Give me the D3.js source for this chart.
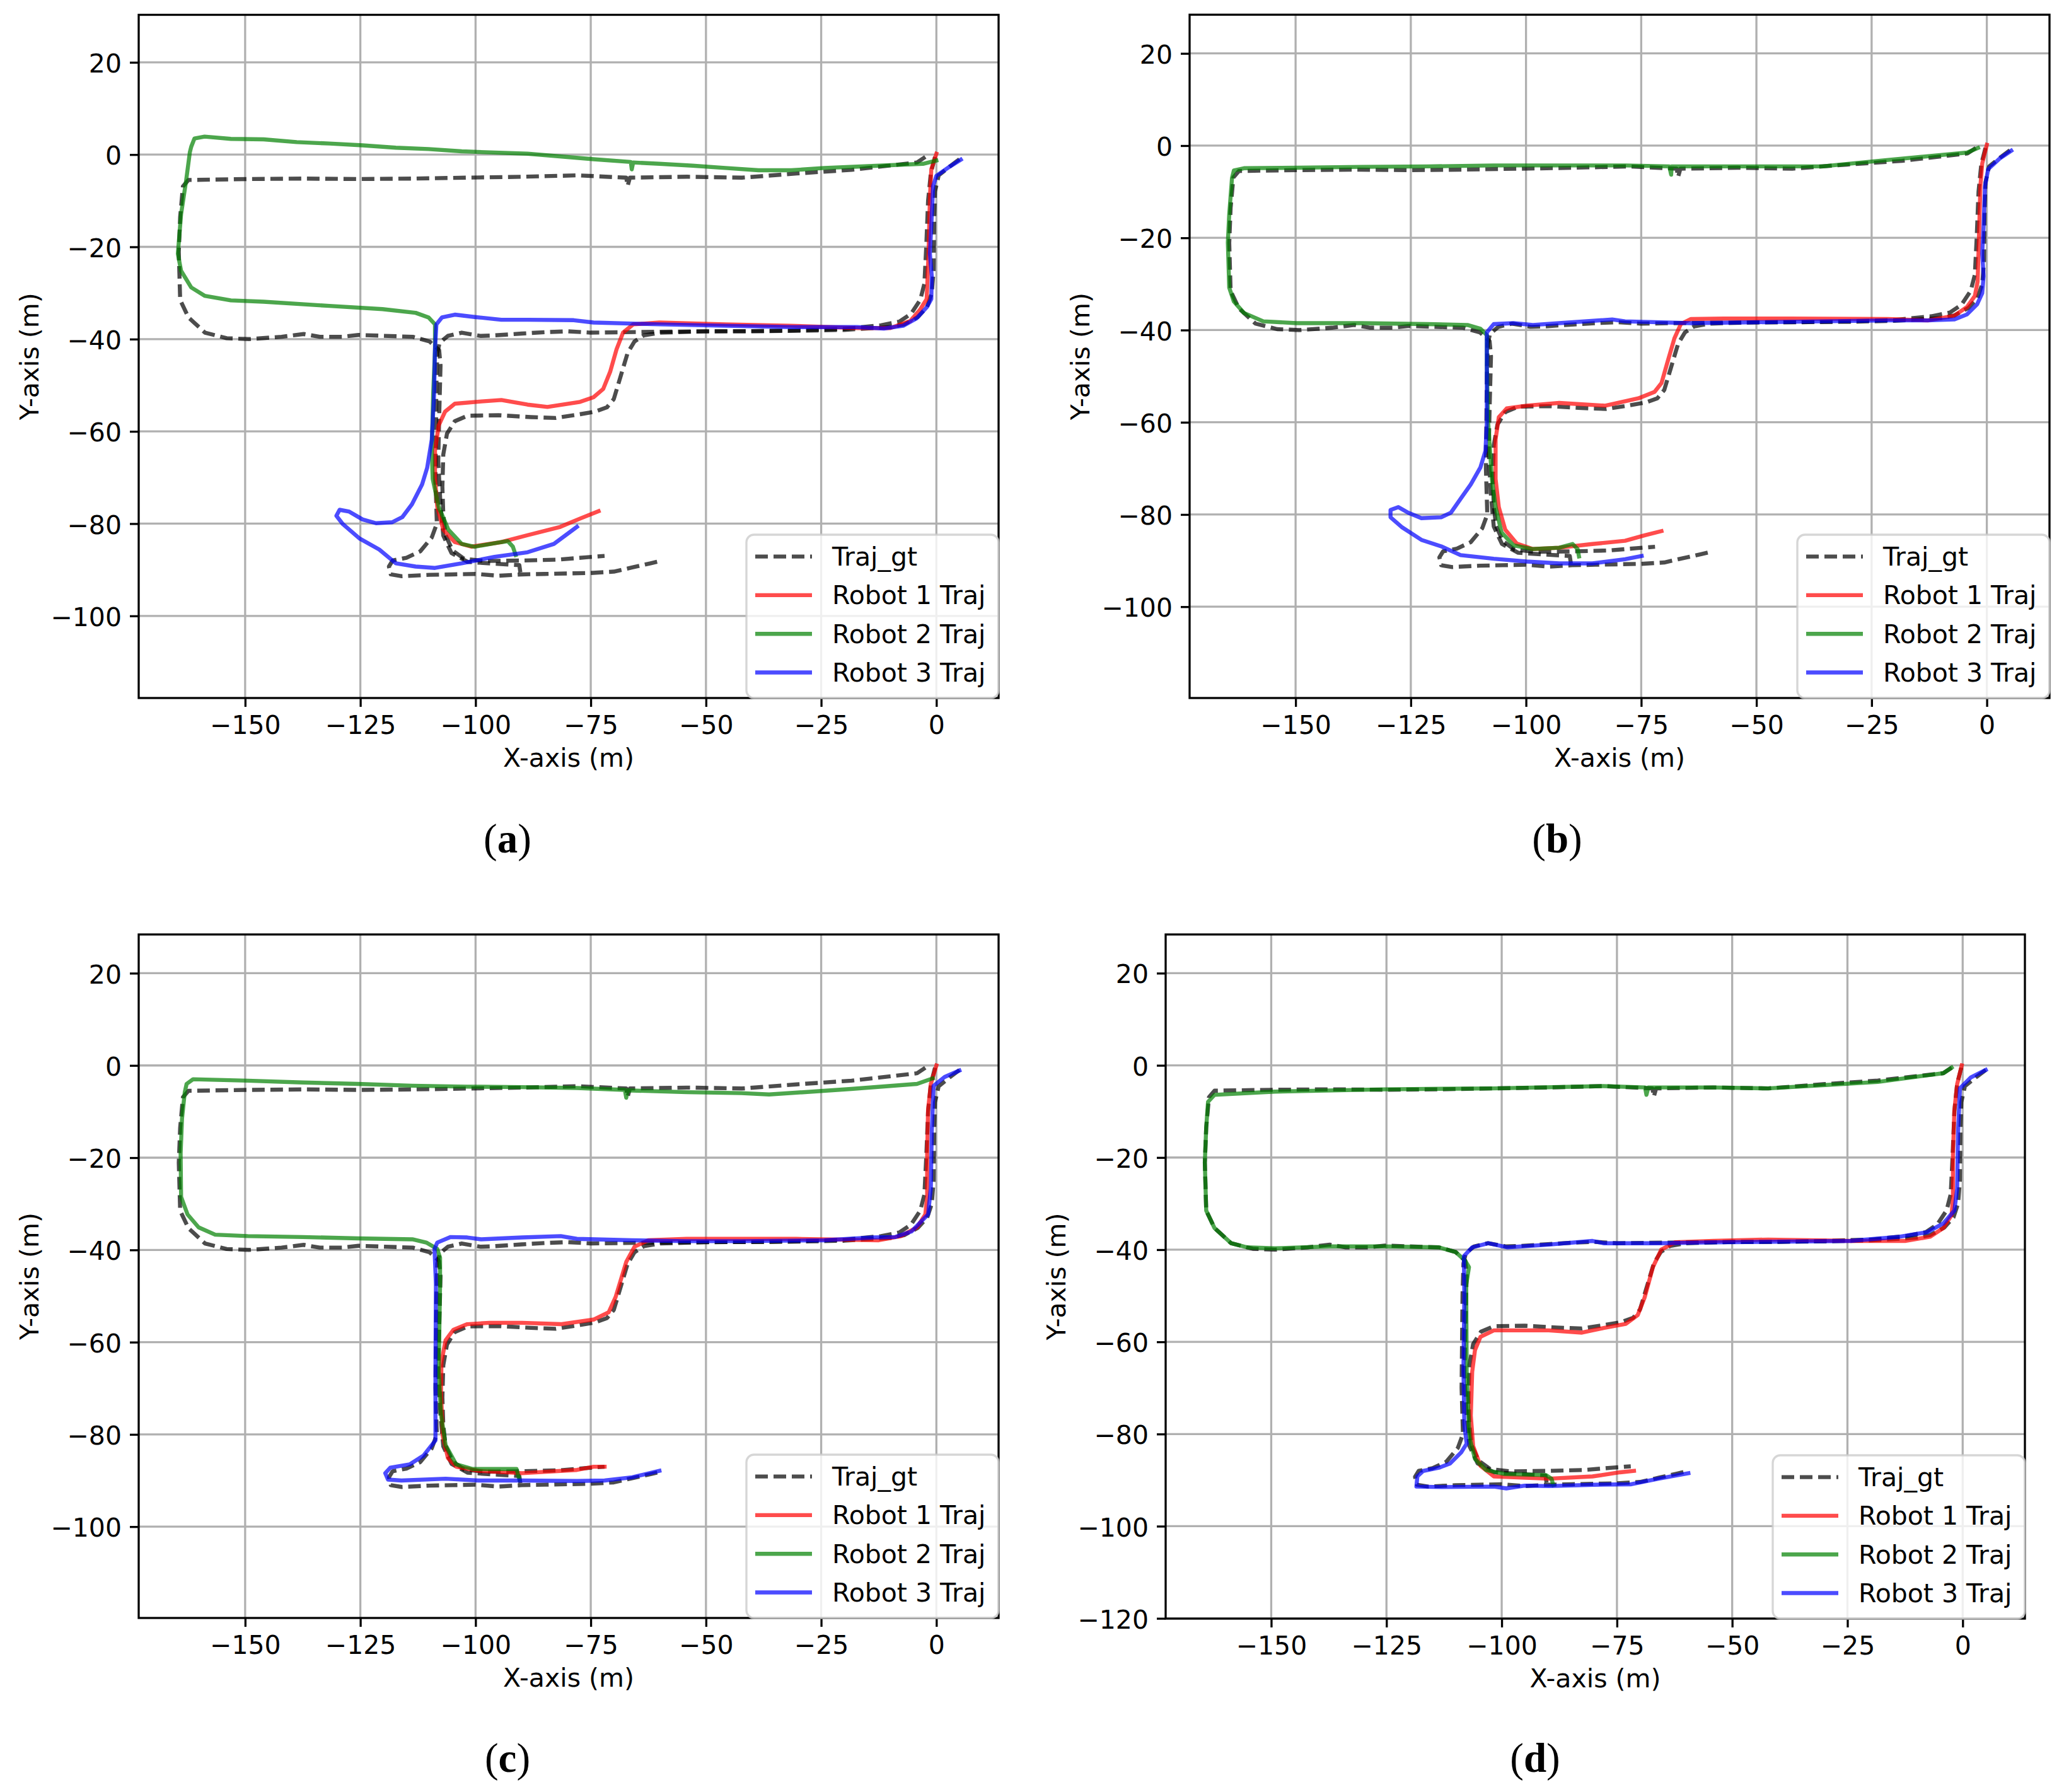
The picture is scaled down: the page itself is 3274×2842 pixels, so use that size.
<!DOCTYPE html>
<html>
<head>
<meta charset="utf-8">
<script src="https://cdn.jsdelivr.net/npm/d3@7"></script>
<style>
  body { margin: 0; background: #fff; }
  text { font-family: "DejaVu Sans", sans-serif; }
</style>
</head>
<body>
<div id="chart"></div>
<script>
// ground truth, same in every panel
var gtRobot1 = [[-0.3,-0.5],[-1.2,-4],[-1.8,-10],[-2.2,-20],[-2.6,-28],[-3.5,-31.5],[-5.5,-34.5],[-8,-36.2],[-12,-37],[-20,-37.8],[-30,-38.1],[-40,-38.3],[-50,-38.3],[-60,-38.6],[-63.5,-39.2],[-65.5,-40.5],[-67,-43],[-68.5,-48],[-70,-53],[-71.5,-54.8],[-74,-55.7],[-78,-56.4],[-82.6,-57.1],[-88,-56.9],[-95,-56.5],[-101.7,-56.6],[-104.5,-57.8],[-106.2,-60.5],[-107,-65],[-107.2,-72],[-107,-78],[-106.5,-82.5],[-105,-85.8],[-102.5,-87.6],[-98,-88.1],[-90,-88],[-82,-87.8],[-76,-87.3],[-72,-87]];
var gtRobot2 = [[-2.4,-0.5],[-4.2,-1.7],[-18.4,-3.3],[-30.3,-4.1],[-42.2,-5.0],[-54.1,-4.8],[-66.5,-5.0],[-67,-6.8],[-67.3,-5.0],[-77.9,-4.5],[-89.8,-4.8],[-101.7,-5.0],[-113.6,-5.2],[-125.4,-5.3],[-137.3,-5.2],[-149.2,-5.3],[-162.3,-5.5],[-163.5,-6.9],[-164.1,-13.5],[-164.4,-21.1],[-164.1,-31.5],[-162.3,-35.3],[-158.7,-38.6],[-154,-39.8],[-149.2,-40.0],[-142.1,-39.5],[-137.3,-38.9],[-133.8,-39.5],[-129,-39.5],[-125.4,-39.1],[-113.6,-39.5],[-110,-40.5],[-107.9,-42.4],[-107.6,-45.7],[-107.9,-57],[-108.1,-66.5],[-107.6,-76],[-107,-82.6],[-105.2,-86.4],[-101.7,-88.3],[-95.7,-88.7],[-90.5,-89],[-90.2,-91.1]];
var gtRobot3 = [[5,-1],[3,-2.5],[0.5,-4.5],[-0.3,-8],[-0.5,-15],[-0.6,-25],[-1,-30],[-2,-33],[-4,-35.2],[-7,-36.8],[-10,-37.4],[-20,-38],[-30,-38.2],[-45,-38.3],[-60,-38.4],[-75,-38.6],[-80,-38.3],[-85,-38.5],[-90,-38.8],[-96,-39.2],[-99,-39.3],[-103,-38.6],[-106,-39.3],[-107.8,-40.8],[-108.3,-43],[-108.5,-50],[-108.6,-60],[-108.7,-70],[-108.4,-80],[-109.5,-83],[-112,-86],[-115,-87.4],[-118,-88],[-118.8,-89.3],[-118.4,-91],[-116,-91.4],[-110,-91.1],[-105,-91.0],[-100,-90.9],[-95,-91.3],[-90,-91],[-85,-90.9],[-80,-90.8],[-75,-90.7],[-70,-90.4],[-66,-89.5],[-62,-88.6],[-59.5,-88]];

// panel (a)
var robot1A = [[0,0.2],[-1.1,-3.2],[-1.4,-9.3],[-1.7,-21.5],[-2.1,-31.3],[-3.6,-33.7],[-5.7,-36.1],[-10,-37.6],[-17.2,-37.6],[-31.5,-37.1],[-45.8,-36.8],[-60.1,-36.4],[-65.8,-36.8],[-68,-38.6],[-69.4,-42.2],[-70.8,-47.1],[-72.3,-50.8],[-74.4,-52.6],[-77.3,-53.6],[-84.4,-54.7],[-88.7,-54.2],[-94.4,-53.2],[-98.7,-53.5],[-104.5,-54],[-106.6,-55.7],[-108,-58.7],[-108.8,-64.2],[-108.8,-70.3],[-108.3,-76.4],[-107,-81.3],[-104.5,-84],[-100.9,-85],[-94.4,-84],[-88.7,-82.5],[-81.6,-80.7],[-77.3,-78.9],[-73.3,-77.3]];
var robot2A = [[0,-1.3],[-2.9,-2],[-17.2,-2.6],[-24.3,-2.9],[-31.5,-3.4],[-38.6,-3.4],[-45.8,-2.9],[-52.9,-2.4],[-60.1,-2],[-65.8,-1.7],[-66.1,-3.2],[-66.3,-1.6],[-74.4,-1],[-88.7,0.2],[-103,0.7],[-110.2,1.2],[-117.3,1.5],[-124.5,2],[-131.7,2.4],[-138.8,2.7],[-146,3.3],[-153.1,3.4],[-158.8,3.9],[-161,3.5],[-161.7,1.7],[-162,0.5],[-162.8,-5.6],[-163.9,-12.9],[-164.6,-21.5],[-163.9,-25.2],[-161.7,-28.8],[-158.8,-30.6],[-153.1,-31.6],[-146,-31.9],[-131.7,-32.8],[-120.2,-33.5],[-113,-34.3],[-110.2,-35.3],[-108.8,-36.8],[-108.8,-42.2],[-109.2,-52],[-109.5,-64.2],[-109.3,-70.3],[-108,-76.4],[-105.9,-81.3],[-103,-84.4],[-100.2,-85],[-94.4,-84],[-93,-83.8],[-91.9,-85],[-91.3,-86.8]];
var robot3A = [[5.3,-1.1],[2.9,-2.6],[0,-4.6],[-0.7,-6.8],[-1.1,-15.4],[-1.4,-21.5],[-1,-26.4],[-1.1,-31.3],[-2.1,-33.1],[-4.3,-35.5],[-7.2,-37.1],[-11.4,-37.7],[-17.2,-37.4],[-31.5,-37.4],[-45.8,-37.1],[-60.1,-36.8],[-74.4,-36.4],[-78.7,-35.9],[-88.7,-35.8],[-94.4,-35.8],[-100.2,-35.2],[-104.5,-34.7],[-107.3,-35.3],[-108.5,-36.8],[-108.8,-42.2],[-109,-52],[-109.5,-61.8],[-110.5,-67.9],[-111.6,-71.5],[-113.8,-75.8],[-115.9,-78.6],[-118.1,-79.7],[-121.6,-79.9],[-124.5,-79.1],[-127.4,-77.4],[-129.5,-77],[-130.2,-78.3],[-128.8,-80.1],[-125.2,-83.2],[-120.9,-85.6],[-117.3,-88.6],[-113,-89.3],[-108.8,-89.6],[-103,-88.6],[-95.9,-87.2],[-88.7,-86.2],[-83,-84.4],[-78,-80.7]];

// panel (b)
var robot1B = [[0,0.2],[-1,-3.9],[-1.4,-8.8],[-1.7,-19.8],[-2,-29.5],[-2.6,-32.6],[-4.3,-35],[-7.1,-36.9],[-12.8,-37.9],[-21.4,-37.6],[-42.8,-37.5],[-57.1,-37.5],[-64.2,-37.6],[-66.4,-38.7],[-67.8,-41.8],[-69.2,-46.6],[-70.6,-51.5],[-72.1,-53.4],[-75.6,-54.8],[-82.8,-56.4],[-92.8,-55.8],[-99.9,-56.4],[-104.2,-57],[-105.9,-58.9],[-106.6,-63.7],[-106.6,-72.3],[-105.9,-78.4],[-104.5,-83.3],[-102,-86.3],[-98.5,-87.5],[-92.8,-87.2],[-85.6,-86.4],[-78.5,-85.7],[-74.2,-84.5],[-70.6,-83.6]];
var robot2B = [[-1.9,-0.5],[-4.3,-1.5],[-21.4,-3.1],[-35.7,-4.5],[-49.9,-4.5],[-64.2,-4.5],[-68.4,-4.5],[-68.5,-6.3],[-68.9,-4.5],[-78.5,-4.3],[-92.8,-4.3],[-107,-4.3],[-121.3,-4.5],[-135.6,-4.6],[-149.8,-4.8],[-161.2,-4.9],[-163.4,-5.4],[-163.8,-7],[-164.4,-14.9],[-164.7,-21],[-164.4,-30.8],[-163.4,-33.8],[-161.2,-36.3],[-157,-38.1],[-149.8,-38.5],[-135.6,-38.5],[-121.3,-38.7],[-112.7,-38.9],[-109.9,-39.7],[-108.5,-41.1],[-108.5,-47.9],[-108.2,-60.1],[-107.4,-72.3],[-106.6,-78.4],[-105.3,-83.9],[-102.7,-86.7],[-98.5,-87.5],[-92.8,-87.2],[-89.9,-86.4],[-88.8,-87.5],[-88.5,-89.1]];
var robot3B = [[5.3,-1.1],[2.9,-2.7],[0.3,-5.1],[-0.4,-8.8],[-0.7,-17.3],[-1,-23.4],[-0.7,-28.3],[-1,-32],[-2.1,-34.4],[-4.3,-36.6],[-7.1,-37.7],[-12.8,-37.9],[-21.4,-37.9],[-35.7,-38.1],[-49.9,-38.3],[-64.2,-38.5],[-78.5,-38.1],[-81.3,-37.7],[-92.8,-38.5],[-98.5,-38.9],[-102.7,-38.5],[-107,-38.7],[-108.5,-40.5],[-108.5,-47.9],[-108.5,-60.1],[-108.8,-66.2],[-109.9,-69.8],[-112,-73.5],[-114.2,-76.6],[-116.3,-79.6],[-118.4,-80.6],[-122.7,-80.8],[-125.6,-79.6],[-127.7,-78.4],[-129.4,-79],[-129.4,-80.6],[-127,-82.7],[-122.7,-85.5],[-118.4,-86.9],[-114.2,-88.8],[-107,-89.6],[-99.9,-90.2],[-92.8,-90.6],[-85.6,-90.6],[-78.5,-89.7],[-74.9,-89]];

// panel (c)
var robot1C = [[0,0],[-1.2,-4],[-1.8,-9.6],[-2,-19.1],[-2,-28.5],[-2.4,-32.3],[-4.2,-35.1],[-7.7,-37],[-12.5,-37.9],[-30.4,-37.6],[-54.2,-37.6],[-62.5,-37.9],[-65.5,-39.3],[-67.3,-42.6],[-69.6,-50.2],[-71.1,-53.5],[-74.4,-55.1],[-81.5,-56.1],[-89.9,-55.8],[-97,-55.8],[-101.8,-56.1],[-104.8,-57.3],[-106.5,-59.6],[-107.4,-64.3],[-107.5,-70.9],[-107.1,-80.4],[-106,-85.1],[-104.2,-87],[-99.4,-87.9],[-89.9,-88.4],[-78,-87.7],[-74.4,-87],[-72,-87]];
var robot2C = [[-0.8,-2.8],[-4.2,-4],[-18.5,-5.1],[-36.3,-6.3],[-42.3,-6],[-54.2,-5.8],[-67,-5.4],[-67.3,-7],[-67.6,-5.3],[-78,-4.9],[-89.9,-4.7],[-101.8,-4.6],[-113.7,-4.4],[-125.6,-4],[-137.5,-3.7],[-149.4,-3.3],[-161.3,-3],[-162.7,-4],[-163.1,-5.8],[-163.7,-11.5],[-164,-19.1],[-163.9,-28.5],[-162.5,-32.3],[-160.1,-35.1],[-156.5,-36.7],[-149.4,-37],[-137.5,-37.2],[-125.6,-37.5],[-113.7,-37.7],[-110.7,-38.4],[-108.3,-39.8],[-107.7,-41.7],[-107.7,-47.4],[-108,-66.2],[-107.5,-75.7],[-106.5,-82.3],[-104.2,-86.5],[-100.6,-87.5],[-91.1,-87.5],[-90.5,-89.8]];
var robot3C = [[5,-1.1],[1.8,-2.5],[-0.6,-4.4],[-1,-14.3],[-1.2,-26.6],[-1.8,-32.3],[-5.4,-36],[-8.9,-37.2],[-13.7,-37.3],[-24.4,-37.9],[-42.3,-38.1],[-54.2,-38.1],[-66.1,-37.9],[-78,-37.6],[-81.5,-37],[-89.9,-37.3],[-98.8,-37.7],[-101.8,-37.3],[-105.4,-37.2],[-108.3,-38.4],[-108.9,-39.8],[-108.6,-47.4],[-108.7,-66.2],[-108.7,-81.3],[-111.3,-84.6],[-114.3,-86.5],[-118.5,-87.2],[-119.6,-88.4],[-119,-89.8],[-116.1,-90],[-106.5,-89.6],[-99.4,-90],[-89.9,-90],[-78,-90.1],[-72,-90],[-66,-89.3],[-60.1,-87.9]];

// panel (d)
var robot1D = [[-0.2,0],[-1.2,-4.1],[-1.8,-9.7],[-2.1,-19.2],[-2.1,-28.7],[-2.4,-32.5],[-4.2,-35.3],[-7.1,-37.2],[-12.5,-38.1],[-24.4,-38.1],[-42.2,-37.8],[-54.1,-38.1],[-62.4,-38.4],[-65.4,-40],[-67.2,-43.8],[-69,-50.4],[-70.5,-54.2],[-73.1,-56.1],[-77.9,-57],[-82.6,-58],[-89.8,-57.5],[-101.7,-57.5],[-104.6,-58.9],[-105.8,-61.8],[-106.4,-66.5],[-106.7,-76],[-106.2,-82.6],[-104.6,-86.9],[-101.7,-89.2],[-89.8,-89.7],[-80.3,-89.2],[-74.3,-88.3],[-71.3,-88]];
var robot2D = [[-2.4,-0.5],[-4.2,-1.7],[-18.4,-3.6],[-30.3,-4.3],[-42.2,-5],[-54.1,-4.8],[-68.2,-4.8],[-68.6,-6.4],[-68.9,-4.8],[-77.9,-4.5],[-101.7,-5],[-125.4,-5.2],[-149.2,-5.7],[-162.3,-6.4],[-163.7,-7.9],[-164.1,-13.5],[-164.4,-21.1],[-164.1,-31.5],[-162.3,-35.3],[-158.7,-38.6],[-155.2,-39.5],[-149.2,-39.7],[-137.3,-39.3],[-125.4,-39.3],[-113.6,-39.5],[-110,-40.5],[-107.9,-42.4],[-107.1,-43.8],[-107.7,-47.6],[-107.6,-66.5],[-107,-80.7],[-105.8,-85.4],[-103.4,-87.8],[-99.3,-88.7],[-90.4,-88.9],[-89.2,-89.7],[-88.8,-91.1]];
var robot3D = [[5,-1],[1.8,-2.6],[-0.6,-5],[-1,-14.5],[-1.2,-26.8],[-1.8,-31.5],[-4.2,-34.3],[-7.7,-36.2],[-13.7,-37.2],[-24.4,-38.1],[-54.1,-38.4],[-66,-38.6],[-77.9,-38.6],[-80.3,-38.1],[-89.8,-38.9],[-98.7,-39.5],[-102.9,-38.6],[-106.4,-39.5],[-108.2,-41.4],[-108.1,-50],[-108.3,-66],[-108.1,-78],[-107.6,-82.1],[-108.8,-84],[-111.2,-86.4],[-113.6,-87.3],[-117,-88],[-118.3,-89.2],[-118.5,-91.4],[-113,-91.5],[-101.7,-91.4],[-99,-91.8],[-95,-91.2],[-89.8,-91.3],[-80,-91.0],[-71.9,-90.9],[-66,-89.7],[-59.5,-88.5]];

var legendNames = ['Traj_gt', 'Robot 1 Traj', 'Robot 2 Traj', 'Robot 3 Traj'];
var seriesColors = ['#000000', '#ff0000', '#008000', '#0000ff'];
var xTickValues = [-150, -125, -100, -75, -50, -25, 0];
var yTickValues = [-120, -100, -80, -60, -40, -20, 0, 20];
var panelLetters = ['a', 'b', 'c', 'd'];

var panels = [
  {box: [220, 23.5, 1584, 1107], xDom: [-173.1, 13.5], yDom: [-117.8, 30.3], labelX: 805, labelY: 1352, robots: [robot1A, robot2A, robot3A]},
  {box: [1887, 23.3, 3251, 1107], xDom: [-173.0, 13.6], yDom: [-119.8, 28.4], labelX: 2470, labelY: 1352, robots: [robot1B, robot2B, robot3B]},
  {box: [220, 1482, 1584, 2566], xDom: [-173.1, 13.5], yDom: [-119.8, 28.4], labelX: 805, labelY: 2810, robots: [robot1C, robot2C, robot3C]},
  {box: [1849, 1482, 3212, 2567], xDom: [-172.9, 13.5], yDom: [-120.05, 28.4], labelX: 2435, labelY: 2810, robots: [robot1D, robot2D, robot3D]}
];

var fontSize = 41;
var lineW = 6.4;
var svg = d3.select('#chart').append('svg')
  .attr('width', 3274)
  .attr('height', 2842)
  .style('background', '#fff');

panels.forEach(function(p, i) { drawPanel(p, i); });

function drawPanel(p, idx) {
  var L = p.box[0], T = p.box[1], R = p.box[2], B = p.box[3];
  var x = d3.scaleLinear().domain(p.xDom).range([L, R]);
  var y = d3.scaleLinear().domain(p.yDom).range([B, T]);
  var yTicks = yTickValues.filter(function(v) { return v >= p.yDom[0] && v <= p.yDom[1]; });
  var g = svg.append('g');

  // grid
  g.append('g').selectAll('line').data(xTickValues).enter().append('line')
    .attr('x1', function(d) { return x(d); }).attr('x2', function(d) { return x(d); })
    .attr('y1', T).attr('y2', B)
    .attr('stroke', '#b0b0b0').attr('stroke-width', 3.3);
  g.append('g').selectAll('line').data(yTicks).enter().append('line')
    .attr('y1', function(d) { return y(d); }).attr('y2', function(d) { return y(d); })
    .attr('x1', L).attr('x2', R)
    .attr('stroke', '#b0b0b0').attr('stroke-width', 3.3);

  // trajectories
  var clipId = 'clip' + idx;
  g.append('clipPath').attr('id', clipId).append('rect')
    .attr('x', L).attr('y', T).attr('width', R - L).attr('height', B - T);
  var line = d3.line().x(function(d) { return x(d[0]); }).y(function(d) { return y(d[1]); });
  var plot = g.append('g').attr('clip-path', 'url(#' + clipId + ')');

  [gtRobot1, gtRobot2, gtRobot3].forEach(function(seg) {
    plot.append('path').datum(seg)
      .attr('d', line)
      .attr('fill', 'none')
      .attr('stroke', seriesColors[0]).attr('stroke-opacity', 0.7)
      .attr('stroke-width', lineW)
      .attr('stroke-dasharray', '20,9')
      .attr('stroke-linejoin', 'round');
  });
  p.robots.forEach(function(seg, k) {
    plot.append('path').datum(seg)
      .attr('d', line)
      .attr('fill', 'none')
      .attr('stroke', seriesColors[k + 1]).attr('stroke-opacity', 0.7)
      .attr('stroke-width', lineW)
      .attr('stroke-linejoin', 'round')
      .attr('stroke-linecap', 'square');
  });

  // axes
  var fmt = d3.format('d');
  var xAxis = g.append('g').attr('transform', 'translate(0,' + B + ')')
    .call(d3.axisBottom(x).tickValues(xTickValues).tickFormat(fmt).tickSize(14).tickPadding(14.3));
  var yAxis = g.append('g').attr('transform', 'translate(' + L + ',0)')
    .call(d3.axisLeft(y).tickValues(yTicks).tickFormat(fmt).tickSize(14).tickPadding(13));
  [xAxis, yAxis].forEach(function(ax) {
    ax.select('.domain').remove();
    ax.selectAll('.tick line').attr('stroke', '#000').attr('stroke-width', 3.3);
    ax.selectAll('.tick text')
      .attr('fill', '#000')
      .style('font-size', fontSize + 'px')
      .style('font-family', '"DejaVu Sans", sans-serif');
  });
  yAxis.selectAll('.tick text').attr('dy', '0.38em');

  // spines
  g.append('rect')
    .attr('x', L).attr('y', T).attr('width', R - L).attr('height', B - T)
    .attr('fill', 'none').attr('stroke', '#000').attr('stroke-width', 3.3);

  // axis labels
  g.append('text')
    .attr('x', (L + R) / 2).attr('y', B + 109)
    .attr('text-anchor', 'middle')
    .style('font-size', fontSize + 'px')
    .text('X-axis (m)');
  g.append('text')
    .attr('transform', 'translate(' + (L - 173) + ',' + ((T + B) / 2) + ') rotate(-90)')
    .attr('text-anchor', 'middle')
    .attr('dy', '0.35em')
    .style('font-size', fontSize + 'px')
    .text('Y-axis (m)');

  // legend
  var lx = R - 400, ly = B - 259;
  var leg = g.append('g');
  leg.append('rect')
    .attr('x', lx).attr('y', ly).attr('width', 400).attr('height', 259)
    .attr('rx', 12).attr('ry', 12)
    .attr('fill', '#fff').attr('fill-opacity', 0.8)
    .attr('stroke', '#cccccc').attr('stroke-opacity', 0.8).attr('stroke-width', 3.3);
  legendNames.forEach(function(name, k) {
    var cy = ly + 34.6 + k * 61.3;
    leg.append('line')
      .attr('x1', lx + 14).attr('x2', lx + 104)
      .attr('y1', cy).attr('y2', cy)
      .attr('stroke', seriesColors[k]).attr('stroke-opacity', 0.7)
      .attr('stroke-width', lineW)
      .attr('stroke-dasharray', k === 0 ? '20,9' : null);
    leg.append('text')
      .attr('x', lx + 136).attr('y', cy + 14.5)
      .style('font-size', fontSize + 'px')
      .text(name);
  });

  // sub-figure caption
  var cap = svg.append('text')
    .attr('x', p.labelX).attr('y', p.labelY)
    .attr('text-anchor', 'middle')
    .style('font-family', '"Liberation Serif", serif')
    .style('font-size', '65px');
  cap.append('tspan').text('(');
  cap.append('tspan').style('font-weight', 'bold').text(panelLetters[idx]);
  cap.append('tspan').text(')');
}
</script>
</body>
</html>
